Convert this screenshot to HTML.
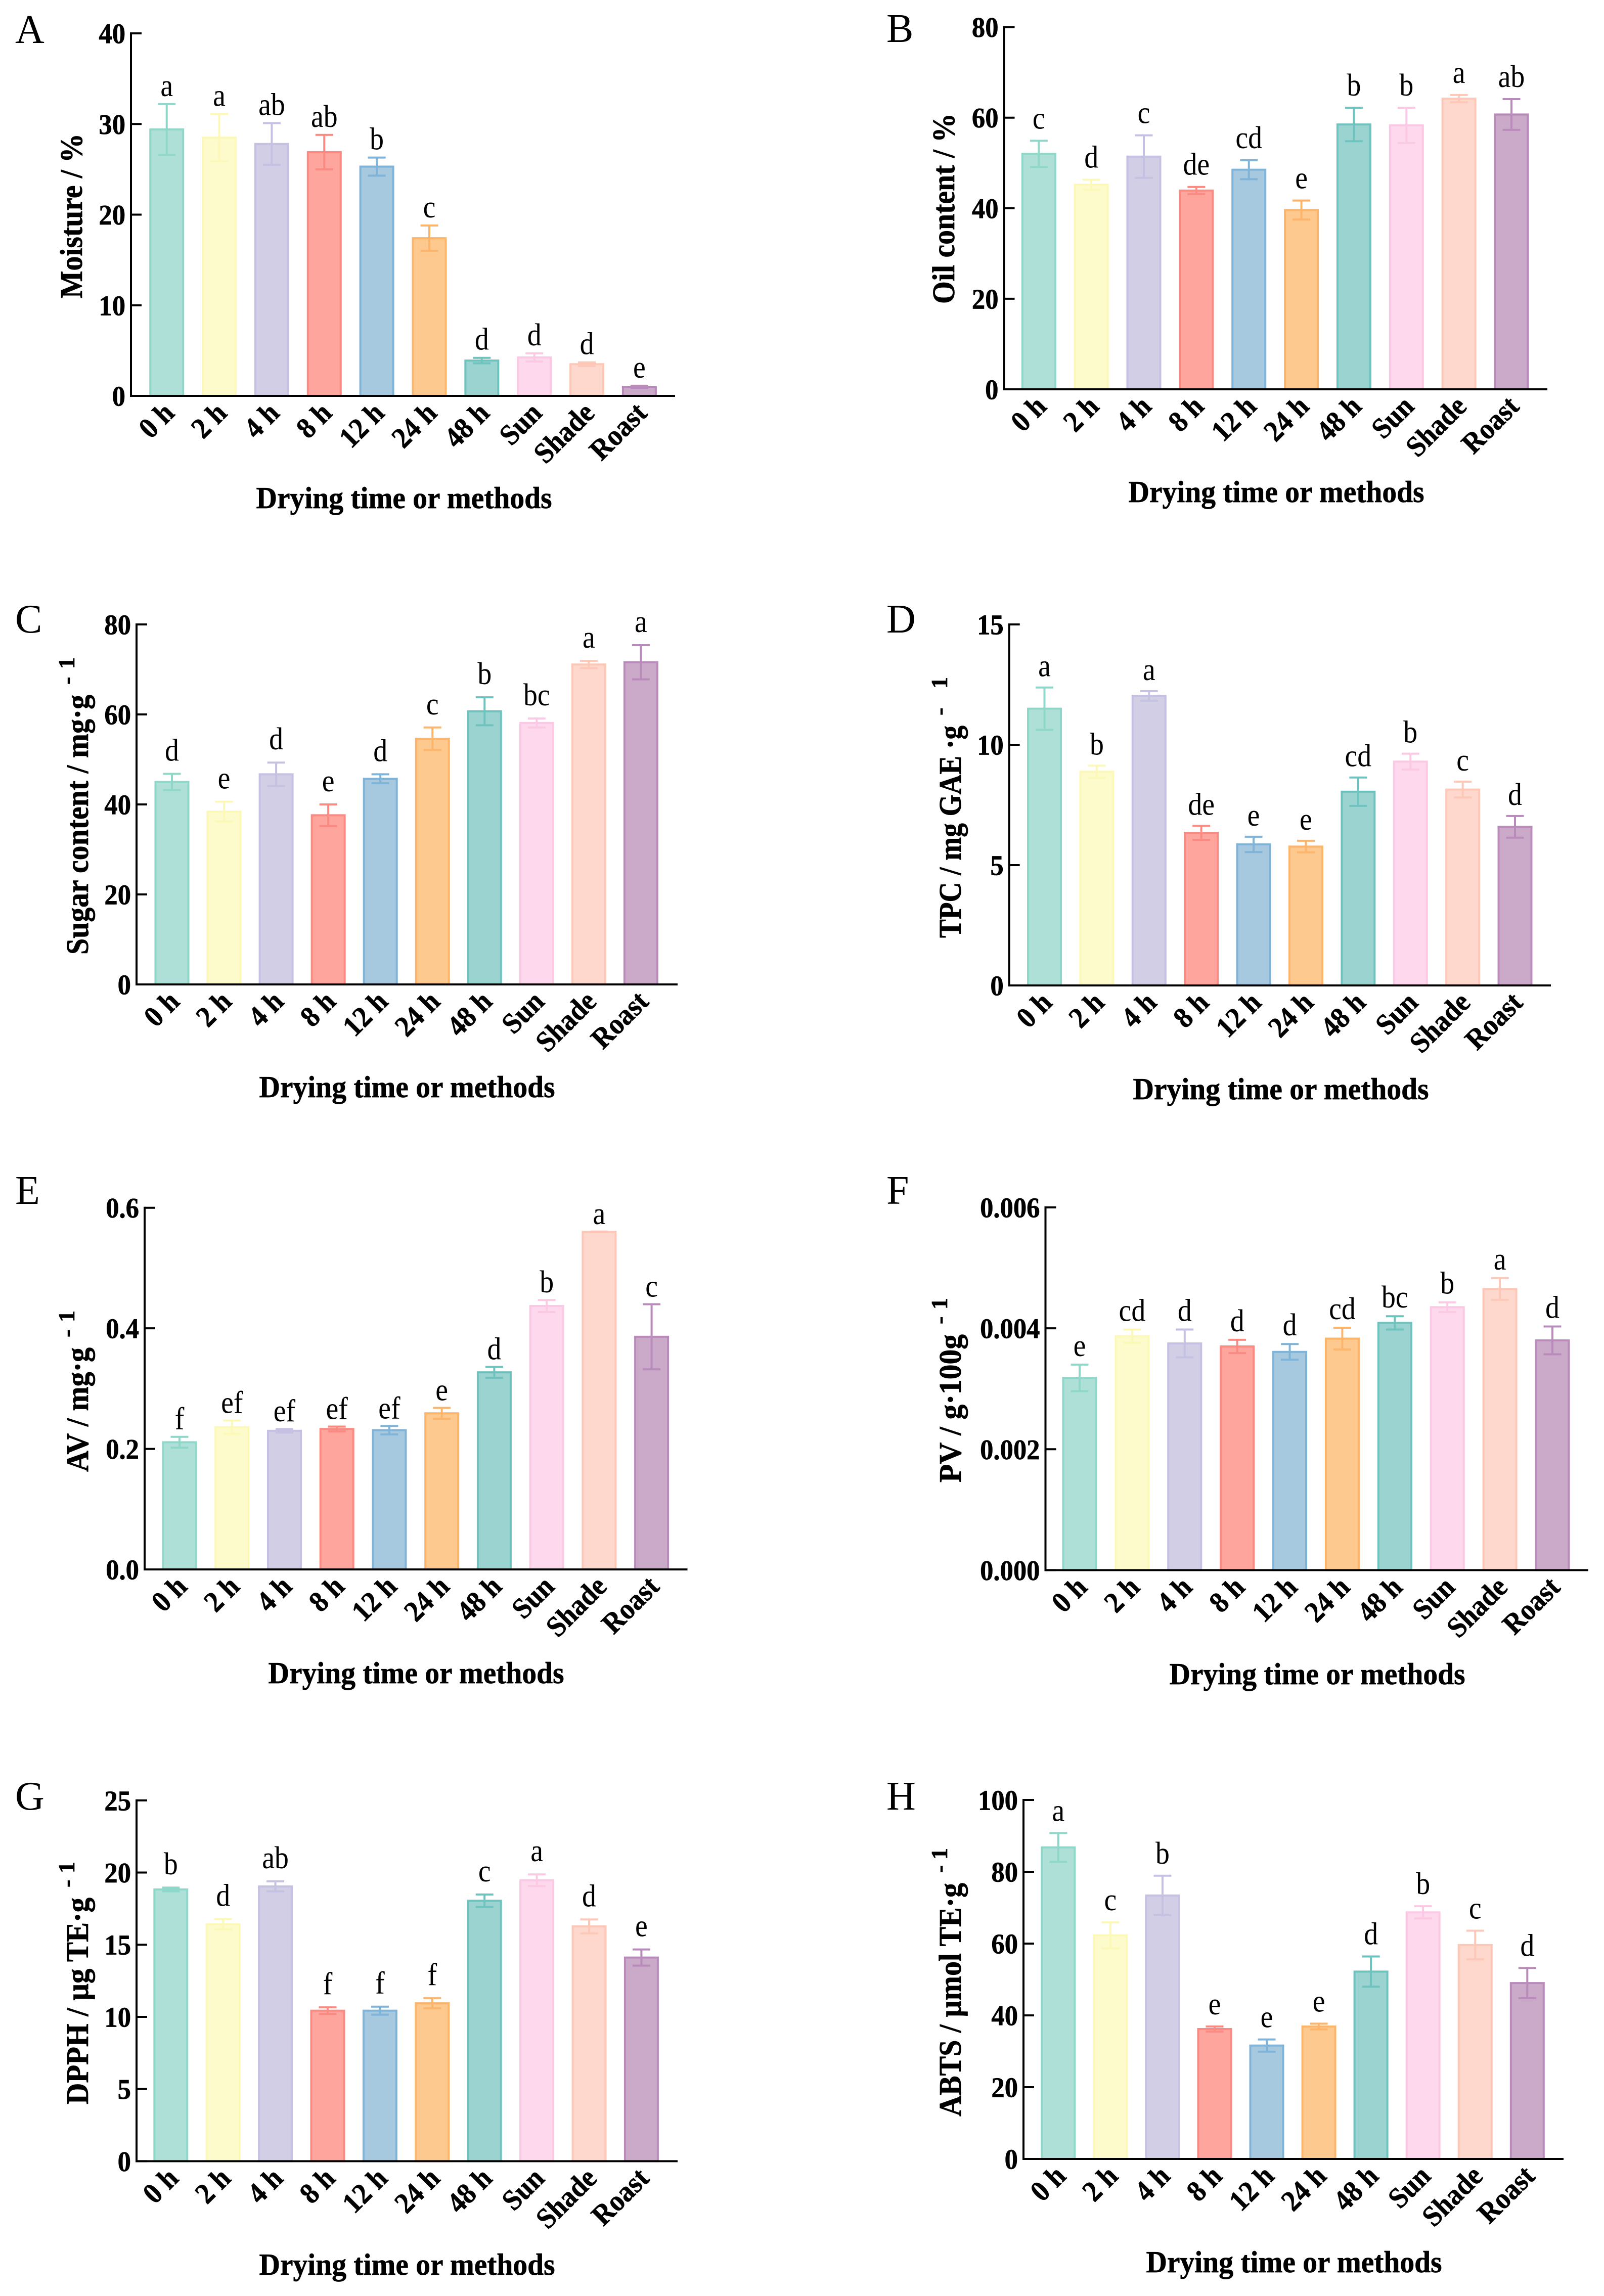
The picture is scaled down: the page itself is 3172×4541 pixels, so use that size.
<!DOCTYPE html>
<html lang="en">
<head>
<meta charset="utf-8">
<title>Drying time or methods bar charts</title>
<style>
html,body{margin:0;padding:0;background:#fff;}
svg{display:block;}
text{font-family:"Liberation Serif",serif;fill:#000;}
text.heavy{stroke:#000;stroke-width:0.7px;}
</style>
</head>
<body>
<svg id="figure" xmlns="http://www.w3.org/2000/svg" width="3172" height="4541" viewBox="0 0 3172 4541"></svg>
<script>
const categories = ['0 h','2 h','4 h','8 h','12 h','24 h','48 h','Sun','Shade','Roast'];

const moistureValues = [29.4,28.5,27.8,26.9,25.3,17.4,3.9,4.25,3.5,1.0];
const moistureErrors = [2.8,2.6,2.3,1.9,1.0,1.4,0.3,0.45,0.2,0.12];
const moistureLetters = ['a','a','ab','ab','b','c','d','d','d','e'];
const moistureTicks = ['0','10','20','30','40'];

const oilValues = [52.0,45.2,51.4,43.9,48.5,39.6,58.5,58.3,64.2,60.7];
const oilErrors = [2.9,1.1,4.7,0.8,2.1,2.1,3.7,3.9,0.8,3.4];
const oilLetters = ['c','d','c','de','cd','e','b','b','a','ab'];
const oilTicks = ['0','20','40','60','80'];

const sugarValues = [45.0,38.4,46.7,37.6,45.7,54.6,60.7,58.1,71.1,71.6];
const sugarErrors = [1.8,2.2,2.6,2.4,1.0,2.5,3.1,1.0,0.8,3.8];
const sugarLetters = ['d','e','d','e','d','c','b','bc','a','a'];
const sugarTicks = ['0','20','40','60','80'];

const tpcValues = [11.5,8.88,12.03,6.34,5.86,5.77,8.05,9.3,8.14,6.59];
const tpcErrors = [0.88,0.25,0.2,0.29,0.32,0.24,0.59,0.33,0.33,0.45];
const tpcLetters = ['a','b','a','de','e','e','cd','b','c','d'];
const tpcTicks = ['0','5','10','15'];

const avValues = [0.211,0.236,0.230,0.233,0.231,0.259,0.327,0.437,0.560,0.386];
const avErrors = [0.009,0.011,0.003,0.004,0.007,0.009,0.009,0.01,0.0005,0.054];
const avLetters = ['f','ef','ef','ef','ef','e','d','b','a','c'];
const avTicks = ['0.0','0.2','0.4','0.6'];

const pvValues = [0.00318,0.00387,0.00375,0.0037,0.00361,0.00383,0.00409,0.00435,0.00465,0.0038];
const pvErrors = [0.00022,0.00011,0.00023,0.00011,0.00013,0.00018,0.00011,0.00008,0.00018,0.00023];
const pvLetters = ['e','cd','d','d','d','cd','bc','b','a','d'];
const pvTicks = ['0.000','0.002','0.004','0.006'];

const dpphValues = [18.83,16.42,19.04,10.43,10.43,10.94,18.05,19.47,16.27,14.11];
const dpphErrors = [0.13,0.36,0.35,0.23,0.28,0.35,0.43,0.4,0.48,0.56];
const dpphLetters = ['b','d','ab','f','f','f','c','a','d','e'];
const dpphTicks = ['0','5','10','15','20','25'];

const abtsValues = [86.8,62.3,73.4,36.2,31.6,36.9,52.2,68.7,59.6,49.0];
const abtsErrors = [4,3.6,5.5,0.7,1.7,0.8,4.2,1.7,4,4.2];
const abtsLetters = ['a','c','b','e','e','e','d','b','c','d'];
const abtsTicks = ['0','20','40','60','80','100'];

const fillColors = ['#aee0d8','#fdfbcb','#d1cee5','#fea59d','#a6c9e0','#fec98e','#9bd3d0','#fed8ec','#fed8cd','#cba9c9'];
const edgeColors = ['#8fd8c9','#fcf9b8','#c5c1e2','#fb8a82','#7fb3d8','#fdb56b','#6fc3bf','#fcc9e4','#fec8b8','#b98bbb'];

const xTitleText = 'Drying time or methods';

const panels = [
  {key:'moisture',letter:'A',values:moistureValues,errors:moistureErrors,sig:moistureLetters,ticks:moistureTicks,
   letterX:30,letterY:85,axisX:259,top:66,base:783,first:329.7,last:1264.4,end:1335,gap:16,
   xTitleX:799,xTitleY:1005,yTitle:'Moisture / %',yTitleX:162,yBottom:590,yTop:264,supTop:null},
  {key:'oil',letter:'B',values:oilValues,errors:oilErrors,sig:oilLetters,ticks:oilTicks,
   letterX:1753,letterY:83,axisX:1985.5,top:53.6,base:770,first:2054.3,last:2989,end:3060,gap:24,
   xTitleX:2524,xTitleY:993,yTitle:'Oil content / %',yTitleX:1887,yBottom:601,yTop:224,supTop:null},
  {key:'sugar',letter:'C',values:sugarValues,errors:sugarErrors,sig:sugarLetters,ticks:sugarTicks,
   letterX:30,letterY:1251,axisX:270,top:1235,base:1947,first:340,last:1267.4,end:1340,gap:26,
   xTitleX:805,xTitleY:2170,yTitle:'Sugar content / mg\u00b7g',yTitleX:174,yBottom:1888,yTop:1374,supTop:1300},
  {key:'tpc',letter:'D',values:tpcValues,errors:tpcErrors,sig:tpcLetters,ticks:tpcTicks,
   letterX:1753,letterY:1251,axisX:1995.7,top:1235,base:1949,first:2065.5,last:2996,end:3067,gap:22,
   xTitleX:2533,xTitleY:2174,yTitle:'TPC / mg GAE \u00b7g',yTitleX:1900,yBottom:1855,yTop:1435,supTop:1339},
  {key:'av',letter:'E',values:avValues,errors:avErrors,sig:avLetters,ticks:avTicks,
   letterX:30,letterY:2381,axisX:286,top:2388.7,base:3104,first:355,last:1288.6,end:1359.5,gap:15,
   xTitleX:823,xTitleY:3329,yTitle:'AV / mg\u00b7g',yTitleX:174,yBottom:2911,yTop:2665,supTop:2592},
  {key:'pv',letter:'F',values:pvValues,errors:pvErrors,sig:pvLetters,ticks:pvTicks,
   letterX:1753,letterY:2381,axisX:2067.5,top:2388,base:3105.4,first:2135,last:3070,end:3140.7,gap:17,
   xTitleX:2605,xTitleY:3331,yTitle:'PV / g\u00b7100g',yTitleX:1900,yBottom:2932,yTop:2639,supTop:2567},
  {key:'dpph',letter:'G',values:dpphValues,errors:dpphErrors,sig:dpphLetters,ticks:dpphTicks,
   letterX:30,letterY:3579,axisX:270,top:3560.8,base:4274.4,first:337.8,last:1268.4,end:1340,gap:26,
   xTitleX:805,xTitleY:4499,yTitle:'DPPH / \u00b5g TE\u00b7g',yTitleX:174,yBottom:4162,yTop:3753,supTop:3682},
  {key:'abts',letter:'H',values:abtsValues,errors:abtsErrors,sig:abtsLetters,ticks:abtsTicks,
   letterX:1753,letterY:3579,axisX:2024,top:3560,base:4270,first:2092.8,last:3020.3,end:3092,gap:24,
   xTitleX:2559,xTitleY:4494,yTitle:'ABTS / \u00b5mol TE\u00b7g',yTitleX:1900,yBottom:4186,yTop:3724,supTop:3655}
];

const svgNS = 'http://www.w3.org/2000/svg';
const figure = document.getElementById('figure');

function make(tag, attrs, parent, txt) {
  const el = document.createElementNS(svgNS, tag);
  for (const k in attrs) el.setAttribute(k, attrs[k]);
  if (txt !== undefined) el.textContent = txt;
  parent.appendChild(el);
  return el;
}

function drawPanel(p) {
  const yMax = Math.max.apply(null, p.ticks.map(parseFloat));
  const yScale = function (v) { return p.base - (v / yMax) * (p.base - p.top); };
  const n = categories.length;
  const xScale = function (i) { return p.first + (p.last - p.first) * i / (n - 1); };
  const barW = 65, capW = 35;

  const g = make('g', {}, figure);
  
  

  const panelLetter = make('text', {x:p.letterX, y:p.letterY, 'font-size':80}, g, p.letter);
  
  

  p.values.forEach(function (v, i) {
    const cx = xScale(i);
    const yv = yScale(v);
    const bar = make('rect', {x:cx - barW / 2, y:yv, width:barW, height:p.base - yv, fill:fillColors[i], stroke:edgeColors[i], 'stroke-width':4}, g);
    
    

    const yHi = yScale(v + p.errors[i]);
    const yLo = yScale(v - p.errors[i]);
    const d = 'M' + (cx - capW / 2) + ' ' + yHi + 'H' + (cx + capW / 2) +
              'M' + cx + ' ' + yHi + 'V' + yLo +
              'M' + (cx - capW / 2) + ' ' + yLo + 'H' + (cx + capW / 2);
    const err = make('path', {d:d, fill:'none', stroke:edgeColors[i], 'stroke-width':4}, g);
    
    

    const sig = make('text', {x:0, y:0, 'font-size':62, 'text-anchor':'middle', transform:'translate(' + cx + ' ' + (yHi - p.gap) + ') scale(0.9 1)'}, g, p.sig[i]);
    
    

    const lx = cx + 18, ly = p.base + 37;
    const cat = make('text', {x:0, y:0, 'font-size':58, 'font-weight':'bold', 'text-anchor':'end', 'class':'heavy', transform:'translate(' + lx + ' ' + ly + ') rotate(-45) scale(0.93 1)'}, g, categories[i]);
    
    
  });

  p.ticks.forEach(function (t) {
    const y = yScale(parseFloat(t));
    const tick = make('line', {x1:p.axisX, x2:p.axisX + 21, y1:y, y2:y, stroke:'#000', 'stroke-width':4}, g);
    
    
    const lab = make('text', {x:0, y:0, 'font-size':56, 'font-weight':'bold', 'text-anchor':'end', 'class':'heavy', transform:'translate(' + (p.axisX - 11) + ' ' + (y + 19.5) + ') scale(0.94 1)'}, g, t);
    
    
  });

  const yAxis = make('line', {x1:p.axisX, x2:p.axisX, y1:p.top - 2, y2:p.base + 2, stroke:'#000', 'stroke-width':4}, g);
  
  
  const xAxis = make('line', {x1:p.axisX - 2, x2:p.end, y1:p.base, y2:p.base, stroke:'#000', 'stroke-width':4}, g);
  
  

  const xTitle = make('text', {x:p.xTitleX, y:p.xTitleY, 'font-size':60, 'font-weight':'bold', 'text-anchor':'middle', 'class':'heavy', textLength:585, lengthAdjust:'spacingAndGlyphs'}, g, xTitleText);
  
  

  const yTitle = make('text', {x:p.yTitleX, y:p.yBottom, 'font-size':62, 'font-weight':'bold', 'class':'heavy', textLength:p.yBottom - p.yTop, lengthAdjust:'spacingAndGlyphs', transform:'rotate(-90 ' + p.yTitleX + ' ' + p.yBottom + ')'}, g, p.yTitle);
  
  

  if (p.supTop !== null) {
    const sx = p.yTitleX - 27, sy = p.yTop - 20;
    const sup = make('text', {x:sx, y:sy, 'font-size':46, 'font-weight':'bold', 'class':'heavy', textLength:sy - p.supTop, transform:'rotate(-90 ' + sx + ' ' + sy + ')'}, g, '- 1');
    
    
  }
}

panels.forEach(drawPanel);
</script>
</body>
</html>
